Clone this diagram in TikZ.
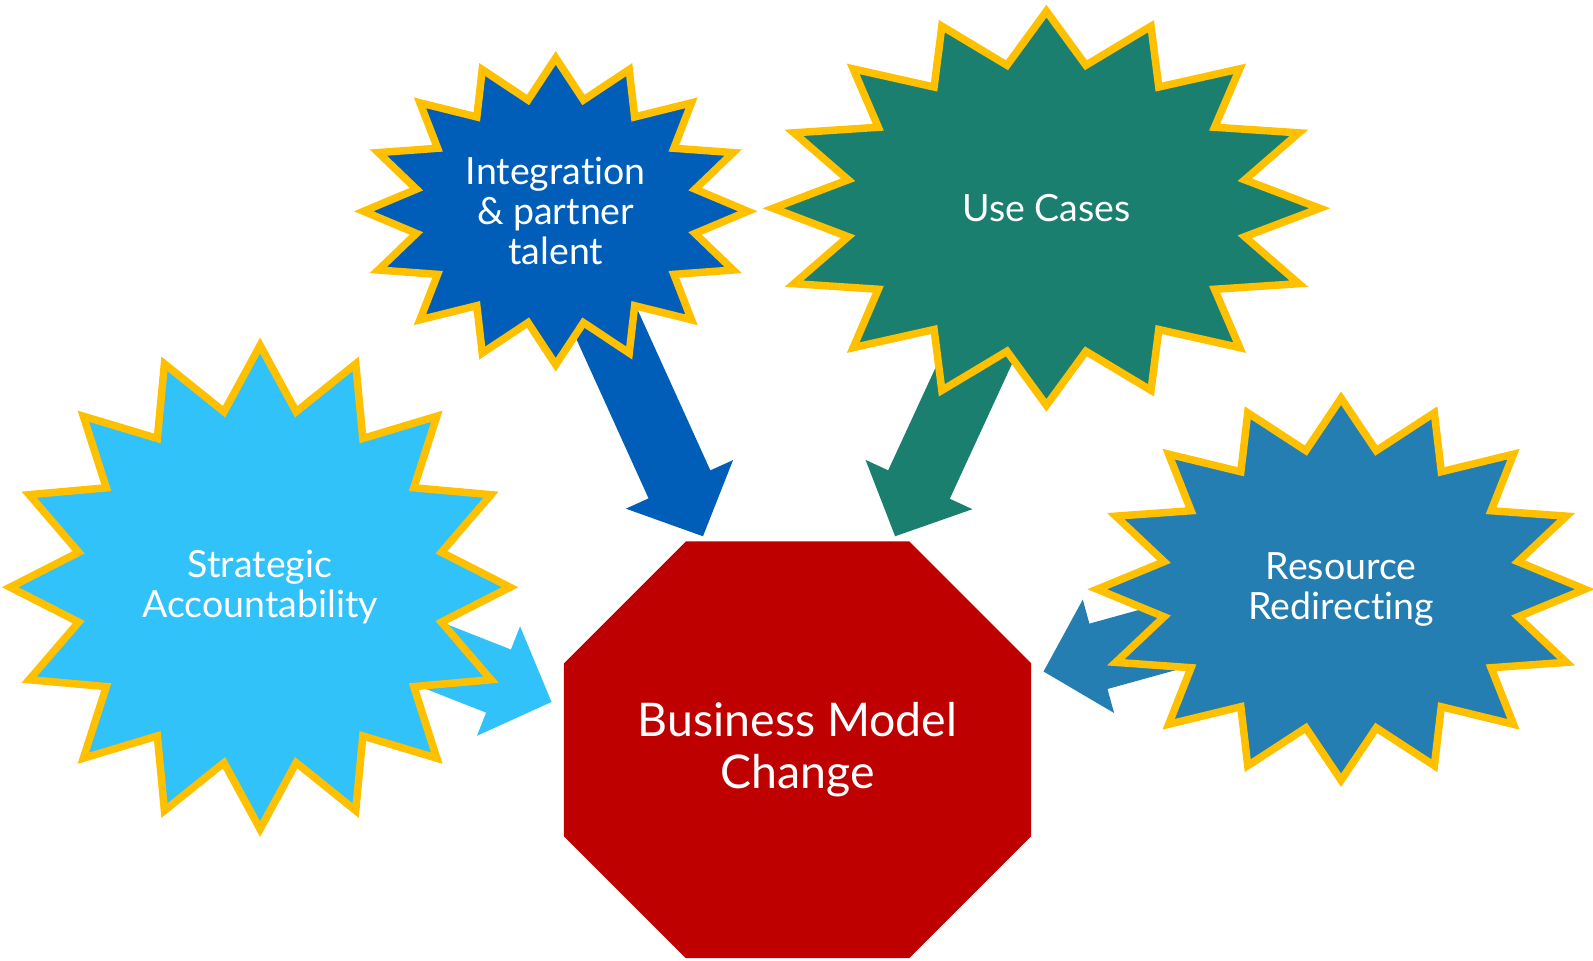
\documentclass[tikz,border=0pt]{standalone}
\usepackage{fontspec}
\setmainfont{Lato}[Ligatures=NoCommon]
\usetikzlibrary{arrows.meta}

\pgfdeclarelayer{back}
\pgfdeclarelayer{shape}
\pgfsetlayers{back,shape,main}

\definecolor{intblue}{HTML}{005EB8}
\definecolor{useteal}{HTML}{1B7F6F}
\definecolor{strblue}{HTML}{32C2FA}
\definecolor{resblue}{HTML}{247EB1}
\definecolor{bmcred}{HTML}{BE0000}
\definecolor{burstgold}{HTML}{FFC000}

\tikzset{
  burst/.style={draw=burstgold, line width=2.1pt, line join=miter},
  lbl/.style={text=white, align=center, font=\fontsize{10.5}{11.2}\selectfont},
  fatarrow/.style={line width=19pt, -{Triangle[length=16pt,width=32pt]}},
}

% 16 point star round a named node
\newcommand{\starburst}[4]{%
  \filldraw[burst, fill=#4, shift={(#1.center)}]
    plot[samples at={0,...,31}, variable=\k]
    ({(1-0.26*mod(\k,2))*#2*cos(\k*11.25)}, {(1-0.26*mod(\k,2))*#3*sin(\k*11.25)}) -- cycle;}

\begin{document}
\begin{tikzpicture}[x=1cm, y=-1cm]
  \useasboundingbox (0,0) rectangle (15.68,9.45);

  \node[lbl, font=\fontsize{13}{14.5}\selectfont] (bmc) at (7.85,7.38) {Business Model\\Change};
  \node[lbl] (int) at (5.47,2.08) {Integration\\\& partner\\talent};
  \node[lbl] (use) at (10.30,2.05) {Use Cases};
  \node[lbl] (str) at (2.56,5.78) {Strategic\\Accountability};
  \node[lbl] (res) at (13.20,5.80) {Resource\\Redirecting};

  % arrow heads
  \coordinate (inttip) at (6.92,5.28);
  \coordinate (usetip) at (8.81,5.28);
  \coordinate (strtip) at (5.43,6.91);
  \coordinate (restip) at (10.27,6.61);

  \begin{pgfonlayer}{shape}
    \starburst{int}{1.89}{1.51}{intblue}
    \starburst{use}{2.69}{1.94}{useteal}
    \starburst{str}{2.46}{2.38}{strblue}
    \starburst{res}{2.40}{1.88}{resblue}
    \fill[bmcred, shift={(bmc.center)}] (-1.1,-2.05) -- (1.1,-2.05) -- (2.3,-0.85) -- (2.3,0.85)
      -- (1.1,2.05) -- (-1.1,2.05) -- (-2.3,0.85) -- (-2.3,-0.85) -- cycle;
  \end{pgfonlayer}

  \begin{pgfonlayer}{back}
    \draw[fatarrow, intblue] (int.center) -- (inttip);
    \draw[fatarrow, useteal] (use.center) -- (usetip);
    \draw[fatarrow, strblue] (str.center) -- (strtip);
    \draw[fatarrow, resblue] (res.center) -- (restip);
  \end{pgfonlayer}
\end{tikzpicture}
\end{document}
